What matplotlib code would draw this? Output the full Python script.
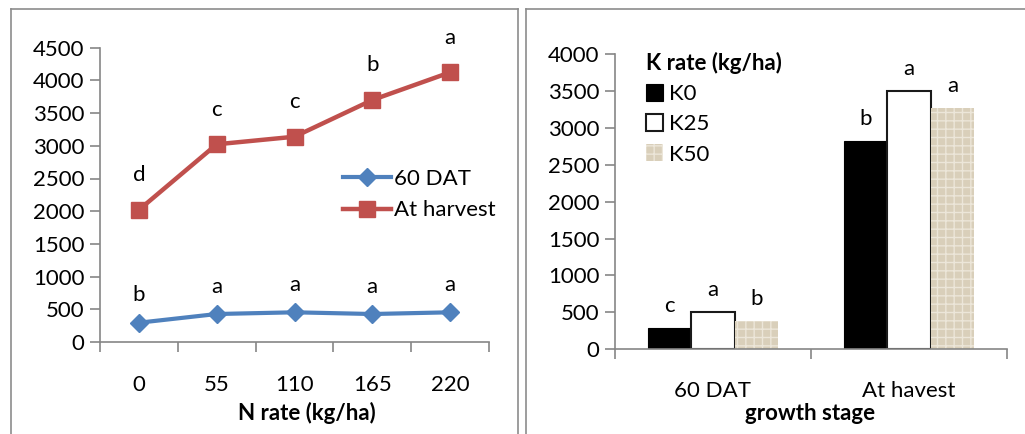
import matplotlib
matplotlib.use('Agg')
import matplotlib.pyplot as plt
from matplotlib.lines import Line2D
import numpy as np

plt.rcParams['font.family'] = ['Lato', 'DejaVu Sans']

# left chart: N rate
n_rates = ['0', '55', '110', '165', '220']
dat60 = [295, 428, 454, 428, 454]
harvest = [2020, 3023, 3139, 3700, 4123]
dat60_letters = ['b', 'a', 'a', 'a', 'a']
harvest_letters = ['d', 'c', 'c', 'b', 'a']

# right chart: K rate
stages = ['60 DAT', 'At havest']
k_names = ['K0', 'K25', 'K50']
k0 = [284, 2822]
k25 = [510, 3503]
k50 = [383, 3264]
k_letters = [['c', 'b'], ['a', 'a'], ['b', 'a']]

axis_grey = '#868686'
fs = 16

fig = plt.figure(figsize=(10.25, 4.34), dpi=100)

# panel frames
W, H = 1025.0, 434.0
def fline(x0, y0, x1, y1):
    fig.add_artist(Line2D([x0 / W, x1 / W], [1 - y0 / H, 1 - y1 / H],
                          color='#8c8c8c', lw=1.2, transform=fig.transFigure))
fline(11, 9, 518, 9)
fline(11, 9, 11, 434)
fline(518, 9, 518, 434)
fline(526, 9, 1025, 9)
fline(526, 9, 526, 434)


def style_axes(ax):
    for s in ['top', 'right']:
        ax.spines[s].set_visible(False)
    for s in ['left', 'bottom']:
        ax.spines[s].set_color(axis_grey)
        ax.spines[s].set_linewidth(1.2)
    ax.tick_params(axis='y', direction='out', length=7, color=axis_grey,
                   width=1.2, labelsize=fs, pad=4)
    ax.tick_params(axis='x', which='major', length=0, labelsize=fs)
    ax.tick_params(axis='x', which='minor', direction='out', length=7,
                   color=axis_grey, width=1.2)


# ---- left ----
ax1 = fig.add_axes([100 / W, 1 - 342 / H, 389 / W, 294.3 / H])
x = np.arange(len(n_rates))
ax1.plot(x, dat60, color='#4F81BD', lw=3, marker='D', ms=9, label='60 DAT')
ax1.plot(x, harvest, color='#C0504D', lw=3.2, marker='s', ms=12, label='At harvest')
ax1.set_xlim(-0.5, len(n_rates) - 0.5)
ax1.set_ylim(0, 4500)
ax1.set_yticks(np.arange(0, 4501, 500))
ax1.set_xticks(x)
ax1.set_xticklabels(n_rates)
ax1.set_xticks(np.arange(-0.5, len(n_rates)), minor=True)
style_axes(ax1)
ax1.tick_params(axis='x', which='major', pad=24)
for i in range(len(n_rates)):
    ax1.text(x[i], dat60[i] + 420, dat60_letters[i], ha='center', va='center', fontsize=fs)
    ax1.text(x[i], harvest[i] + 530, harvest_letters[i], ha='center', va='center', fontsize=fs)
ax1.set_xlabel('N rate (kg/ha)', fontsize=fs, fontweight='bold')
ax1.xaxis.set_label_coords(0.532, -0.241)
ax1.xaxis.label.set_va('center')
ax1.legend(loc='upper left', bbox_to_anchor=(0.595, 0.625), frameon=False,
           fontsize=fs, handlelength=2.2, handletextpad=0.1, borderpad=0,
           labelspacing=0.5)

# ---- right ----
ax2 = fig.add_axes([615 / W, 1 - 349.3 / H, 392 / W, 295.3 / H])
xs = np.arange(len(stages))
bw = 0.222
ax2.bar(xs - bw, k0, bw, color='black', edgecolor='black', lw=0.8, label=k_names[0])
ax2.bar(xs, k25, bw, color='white', edgecolor='#1a1a1a', lw=1.5, label=k_names[1])
ax2.bar(xs + bw, k50, bw, color='#d9cfba', edgecolor='#ece6d9', lw=0,
        hatch='++', label=k_names[2])
ax2.set_xlim(-0.5, len(stages) - 0.5)
ax2.set_ylim(0, 4000)
ax2.set_yticks(np.arange(0, 4001, 500))
ax2.set_xticks(xs)
ax2.set_xticklabels(stages)
ax2.set_xticks(np.arange(-0.5, len(stages)), minor=True)
style_axes(ax2)
ax2.tick_params(axis='x', which='major', pad=23)
offs = [-bw, 0, bw]
vals = [k0, k25, k50]
for j in range(3):
    for i in range(len(stages)):
        ax2.text(xs[i] + offs[j], vals[j][i] + 300, k_letters[j][i],
                 ha='center', va='center', fontsize=fs)
ax2.set_xlabel('growth stage', fontsize=fs, fontweight='bold')
ax2.xaxis.set_label_coords(0.497, -0.216)
ax2.xaxis.label.set_va('center')
leg = ax2.legend(loc='upper left', bbox_to_anchor=(0.05, 1.045), frameon=False,
                 fontsize=fs, title='K rate (kg/ha)', handlelength=0.8,
                 handleheight=0.8, handletextpad=0.25, borderpad=0,
                 labelspacing=0.45)
leg.get_title().set_fontweight('bold')
leg.get_title().set_fontsize(fs)
leg._legend_box.align = 'left'

fig.savefig('out.png', dpi=100)
